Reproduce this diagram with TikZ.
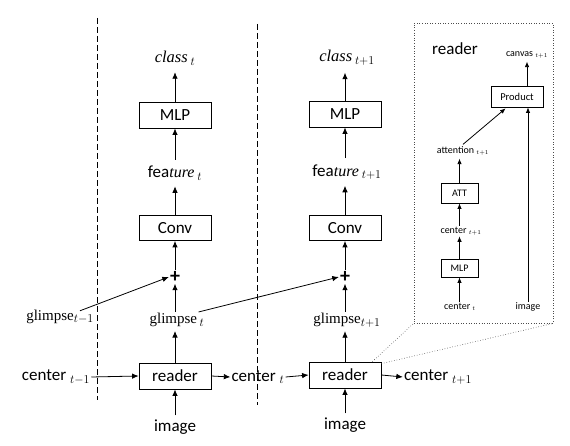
\documentclass[tikz,border=0pt]{standalone}
\usepackage{fontspec}
\usetikzlibrary{arrows.meta,calc}
\newfontfamily\carl{Carlito}
\newfontfamily\tms{Liberation Serif}
\begin{document}
\begin{tikzpicture}[x=1pt,y=-1pt,
  box/.style={draw, line width=0.8pt, inner sep=0pt, minimum width=72pt, minimum height=26pt, font=\carl\fontsize{17}{20}\selectfont},
  sbox/.style={draw, line width=0.8pt, inner sep=0pt, font=\carl\fontsize{10}{12}\selectfont},
  lbl/.style={inner sep=1pt, font=\carl\fontsize{17}{20}\selectfont},
  slbl/.style={inner sep=1pt, font=\carl\fontsize{10}{12}\selectfont},
  serif/.style={inner sep=1pt, font=\tms\fontsize{15}{18}\selectfont},
  plussign/.style={inner sep=1pt, font=\carl\bfseries\fontsize{20}{22}\selectfont},
  arr/.style={-{Latex[length=6.5pt,width=5.5pt]}, line width=0.8pt},
  sarr/.style={-{Latex[length=5.5pt,width=4.5pt]}, line width=0.8pt},
  sep/.style={dash pattern=on 6pt off 3pt, line width=0.7pt},
  zoomline/.style={dotted, line width=0.6pt, black!70}
]
\useasboundingbox (0,0) rectangle (570,446);

% separators
\draw[sep] (97,18) -- (97,400);
\draw[sep] (257,24) -- (257,405);

% column t
\node[serif, font=\tms\itshape\fontsize{16.5}{18}\selectfont] (class1) at (175,58) {class\,{\fontsize{16.5}{18}\selectfont$_{t}$}};
\node[box] (mlp1) at (175,115) {MLP};
\node[lbl] (feat1) at (175,173) {fea{\tms\itshape\fontsize{16}{18}\selectfont ture}\,{\fontsize{16.5}{18}\selectfont$_{t}$}};
\node[box, minimum height=25pt] (conv1) at (175,228) {Conv};
\node[plussign] (plus1) at (175,277) {+};
\node[serif] (glim1) at (177,320) {glimpse\,{\fontsize{16.5}{18}\selectfont$_{t}$}};
\node[box] (reader1) at (175,376) {reader};
\node[lbl] (image1) at (175,427) {image};
\node[lbl] (cprev) at (56,377) {center {\fontsize{16.5}{18}\selectfont$_{t-1}$}};
\node[serif] (glimprev) at (60,317) {glimpse{\fontsize{16.5}{18}\selectfont$_{t-1}$}};
\node[lbl] (centert) at (258,377) {center {\fontsize{16.5}{18}\selectfont$_{t}$}};

% column t+1
\node[serif, font=\tms\itshape\fontsize{16.5}{18}\selectfont] (class2) at (347,58) {class\,{\fontsize{16.5}{18}\selectfont$_{t+1}$}};
\node[box] (mlp2) at (345,114) {MLP};
\node[lbl] (feat2) at (347,172) {fea{\tms\itshape\fontsize{16}{18}\selectfont ture}\,{\fontsize{16.5}{18}\selectfont$_{t+1}$}};
\node[box, minimum height=25pt] (conv2) at (345,228) {Conv};
\node[plussign] (plus2) at (345,277) {+};
\node[serif] (glim2) at (347,320) {glimpse{\fontsize{16.5}{18}\selectfont$_{t+1}$}};
\node[box] (reader2) at (345,375) {reader};
\node[lbl] (image2) at (345,425) {image};
\node[lbl] (cnext) at (438,377) {center {\fontsize{16.5}{18}\selectfont$_{t+1}$}};

% arrows column t
\draw[arr, shorten >=6pt] (mlp1.north) -- (class1.south);
\draw[arr, shorten <=5pt] (feat1.north) -- (mlp1.south);
\draw[arr, shorten >=5pt] (conv1.north) -- (feat1.south);
\draw[arr] (plus1.north) -- (conv1.south);
\draw[arr] (glim1.north -| plus1) -- (plus1.south);
\draw[arr, shorten >=3pt] (reader1.north) -- (glim1.south -| reader1);
\draw[arr, shorten <=3pt] (image1.north) -- (reader1.south);
\draw[arr] (cprev.east) -- (reader1.west);
\draw[arr] (reader1.east) -- (centert.west);
\draw[arr] ($(glimprev.north east)+(-15,2)$) -- (plus1.west);
\draw[arr] ($(glim1.north east)+(-7,0)$) -- (plus2.west);

% arrows column t+1
\draw[arr, shorten >=6pt] (mlp2.north) -- (class2.south -| mlp2);
\draw[arr, shorten <=5pt] (feat2.north -| mlp2) -- (mlp2.south);
\draw[arr, shorten >=5pt] (conv2.north) -- (feat2.south -| conv2);
\draw[arr] (plus2.north) -- (conv2.south);
\draw[arr] (glim2.north -| plus2) -- (plus2.south);
\draw[arr, shorten >=3pt] (reader2.north) -- (glim2.south -| reader2);
\draw[arr, shorten <=3pt] (image2.north) -- (reader2.south);
\draw[arr] (centert.east) -- (reader2.west);
\draw[arr] (reader2.east) -- (cnext.west);

% inset
\node[draw, zoomline, minimum width=139pt, minimum height=300pt, inner sep=0pt] (inset) at (483.5,173) {};
\draw[zoomline] ([xshift=-9pt]reader2.north east) -- (inset.south west);
\draw[zoomline] ([yshift=-2pt]reader2.north east) -- (inset.south east);

\node[lbl] (rtitle) at (455,49) {reader};
\node[slbl] (canvas) at (527,55) {canvas {\fontsize{8}{10}\selectfont$_{t+1}$}};
\node[sbox, font=\carl\fontsize{10.5}{12}\selectfont, minimum width=52pt, minimum height=21pt] (prod) at (517,96.5) {Product};
\node[slbl] (att) at (463,151) {attention {\fontsize{8}{10}\selectfont$_{t+1}$}};
\node[sbox, minimum width=37pt, minimum height=20pt] (attbox) at (459.5,193) {ATT};
\node[slbl] (cs1) at (461,231) {center {\fontsize{8}{10}\selectfont$_{t+1}$}};
\node[sbox, minimum width=37pt, minimum height=18pt] (smlp) at (459.5,268) {MLP};
\node[slbl] (cs0) at (460,307) {center {\fontsize{8}{10}\selectfont$_{t}$}};
\node[slbl] (simg) at (528,307) {image};

\draw[sarr, shorten >=2pt] (prod.north -| canvas) -- (canvas.south);
\draw[sarr] (simg.north) -- (prod.south -| simg);
\draw[sarr] ($(att.north)+(0,-1)$) -- ($(prod.south west)+(15,1)$);
\draw[sarr, shorten >=2pt] (attbox.north) -- (att.south -| attbox);
\draw[sarr] (cs1.north -| attbox) -- (attbox.south);
\draw[sarr] (smlp.north) -- (cs1.south -| smlp);
\draw[sarr] (cs0.north -| smlp) -- (smlp.south);
\end{tikzpicture}
\end{document}
